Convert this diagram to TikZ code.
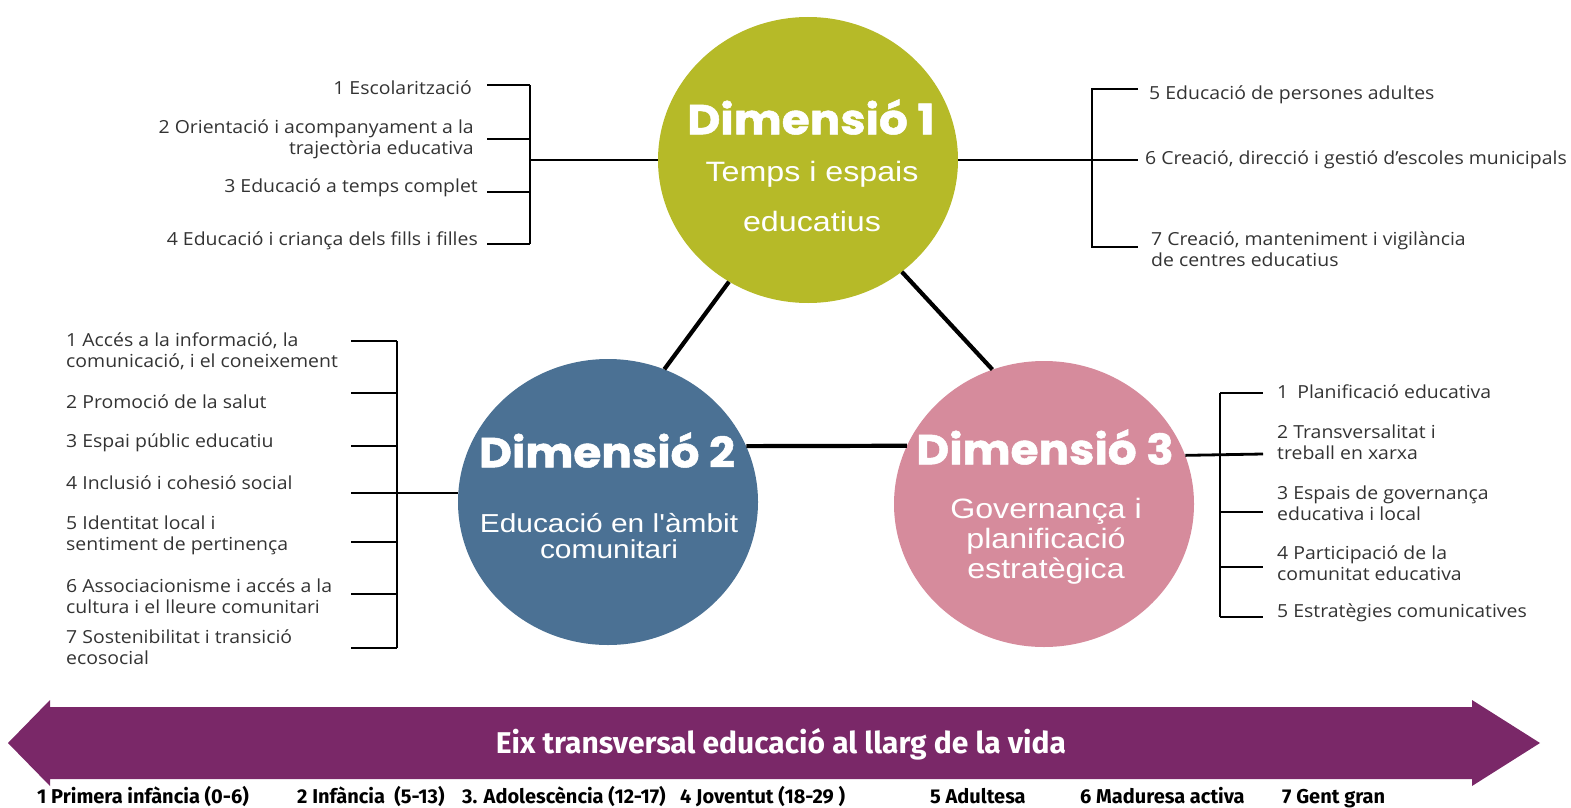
\documentclass[tikz,border=0pt]{standalone}
\usepackage{fontspec}
\setmainfont{Open Sans}[FakeStretch=1.08]
\newfontfamily\titlefont{Poppins}[FakeStretch=1.08, BoldFeatures={FakeBold=1.2}]
\newfontfamily\subfont{Liberation Sans}[FakeStretch=1.15]
\newfontfamily\condfont{Fira Sans}
\usepackage{tikz}
\usetikzlibrary{shapes.geometric, positioning, calc}

\definecolor{verdeD}{HTML}{B6BA28}
\definecolor{bluD}{HTML}{4B7194}
\definecolor{rosaD}{HTML}{D68B9C}
\definecolor{viola}{HTML}{7A2868}
\definecolor{grigio}{HTML}{333333}

\begin{document}
\begin{tikzpicture}[x=1pt, y=-1pt,
    dimcircle/.style={ellipse, minimum width=300pt, minimum height=286pt, inner sep=0pt},
    dimtitle/.style={text=white, inner sep=0pt, font=\titlefont\bfseries\fontsize{42}{42}\selectfont},
    dimsub/.style 2 args={text=white, inner sep=0pt, align=center, font=\subfont\fontsize{#1}{#2}\selectfont},
    voce/.style={text=grigio, inner sep=0pt, font=\fontsize{18}{21}\selectfont},
    ramo/.style={line width=2.8pt},
    legame/.style={line width=4.2pt},
    eta/.style={anchor=base west, inner sep=0pt, font=\condfont\bfseries\fontsize{20}{20}\selectfont}]
    \useasboundingbox (0,0) rectangle (1571,808);

    % Dimensioni
    \node[dimcircle, fill=verdeD] (d1) at (808,160) {};
    \node[dimcircle, fill=bluD] (d2) at (608,502) {};
    \node[dimcircle, fill=rosaD] (d3) at (1044,504) {};

    % Legami tra le dimensioni
    \draw[legame] (d1.237) -- (d2.67);
    \draw[legame] (d1.-50) -- (d3.111);
    \draw[legame] (d2.22) -- (d3.157);

    % Testi nei cerchi
    \node[dimtitle] (t1) at (811,117) {Dimensió 1};
    \node[dimsub={28}{50}] (s1) at (812,196) {Temps i espais\\educatius};
    \node[dimtitle] (t2) at (607,450) {Dimensió 2};
    \node[dimsub={26}{26}] (s2) at (609,536) {Educació en l'àmbit\\comunitari};
    \node[dimtitle] (t3) at (1045,447) {Dimensió 3};
    \node[dimsub={28}{30}] (s3) at (1046,541) {Governança i\\planificació\\estratègica};

    % Dimensió 1, a sinistra
    \coordinate (b1) at (530,160);
    \draw[ramo] (d1.west) -- (b1);
    \draw[ramo] (530,85) -- (530,244);
    \foreach \y in {85,139,192,244}
        \draw[ramo] (487,\y) -- (530,\y);
    \node[voce, anchor=east, align=right] (v11) at (472,88) {1 Escolarització};
    \node[voce, anchor=east, align=right] (v12) at (474,139) {2 Orientació i acompanyament a la\\trajectòria educativa};
    \node[voce, anchor=east, align=right] (v13) at (478,188) {3 Educació a temps complet};
    \node[voce, anchor=east, align=right] (v14) at (478,241) {4 Educació i criança dels fills i filles};

    % Dimensió 1, a destra
    \coordinate (c1) at (1138,160);
    \draw[ramo] (d1.east) -- (c1);
    \draw[ramo] (1138,89) -| (1092,247) -- (1138,247);
    \node[voce, anchor=west, align=left] (v15) at (1149,95) {5 Educació de persones adultes};
    \node[voce, anchor=west, align=left] (v16) at (1145,160) {6 Creació, direcció i gestió d’escoles municipals};
    \node[voce, anchor=west, align=left] (v17) at (1151,249) {7 Creació, manteniment i vigilància\\de centres educatius};

    % Dimensió 2
    \coordinate (b2) at (397,493);
    \draw[ramo] (b2 -| d2.west) -- (b2);
    \draw[ramo] (397,341) -- (397,648);
    \foreach \y in {341,393,446,493,542,594,648}
        \draw[ramo] (351,\y) -- (397,\y);
    \node[voce, anchor=west, align=left] (v21) at (66,351) {1 Accés a la informació, la\\comunicació, i el coneixement};
    \node[voce, anchor=west, align=left] (v22) at (66,402) {2 Promoció de la salut};
    \node[voce, anchor=west, align=left] (v23) at (66,443) {3 Espai públic educatiu};
    \node[voce, anchor=west, align=left] (v24) at (66,483) {4 Inclusió i cohesió social};
    \node[voce, anchor=west, align=left] (v25) at (66,535) {5 Identitat local i\\sentiment de pertinença};
    \node[voce, anchor=west, align=left] (v26) at (66,596) {6 Associacionisme i accés a la\\cultura i el lleure comunitari};
    \node[voce, anchor=west, align=left] (v27) at (66,647) {7 Sostenibilitat i transició\\ecosocial};

    % Dimensió 3
    \coordinate (b3) at (1263,454);
    \draw[ramo] (d3.19.6) -- (b3);
    \draw[ramo] (1220,393) -- (1220,617);
    \foreach \y in {393,512,567,617}
        \draw[ramo] (1220,\y) -- (1263,\y);
    \node[voce, anchor=west, align=left] (v31) at (1277,392) {1\enspace Planificació educativa};
    \node[voce, anchor=west, align=left] (v32) at (1277,442) {2 Transversalitat i\\treball en xarxa};
    \node[voce, anchor=west, align=left] (v33) at (1277,503) {3 Espais de governança\\educativa i local};
    \node[voce, anchor=west, align=left] (v34) at (1277,563) {4 Participació de la\\comunitat educativa};
    \node[voce, anchor=west, align=left] (v35) at (1277,613) {5 Estratègies comunicatives};

    % Eix transversal
    \fill[viola] (8,743) -- (50,700) -- (50,707) -- (1472,707) -- (1472,700) -- (1540,743)
        -- (1472,786) -- (1472,779) -- (50,779) -- (50,786) -- cycle;
    \node[text=white, font=\condfont\bfseries\fontsize{30}{30}\selectfont] (eix) at (781,744) {Eix transversal educació al llarg de la vida};

    % Etapes
    \node[eta] (e1) at (37,803) {1 Primera infància (0-6)};
    \node[eta] (e2) at (297,803) {2 Infància \ (5-13)};
    \node[eta] (e3) at (462,803) {3. Adolescència (12-17)};
    \node[eta] (e4) at (680,803) {4 Joventut (18-29 )};
    \node[eta] (e5) at (930,803) {5 Adultesa};
    \node[eta] (e6) at (1080,803) {6 Maduresa activa};
    \node[eta] (e7) at (1282,803) {7 Gent gran};
\end{tikzpicture}
\end{document}
